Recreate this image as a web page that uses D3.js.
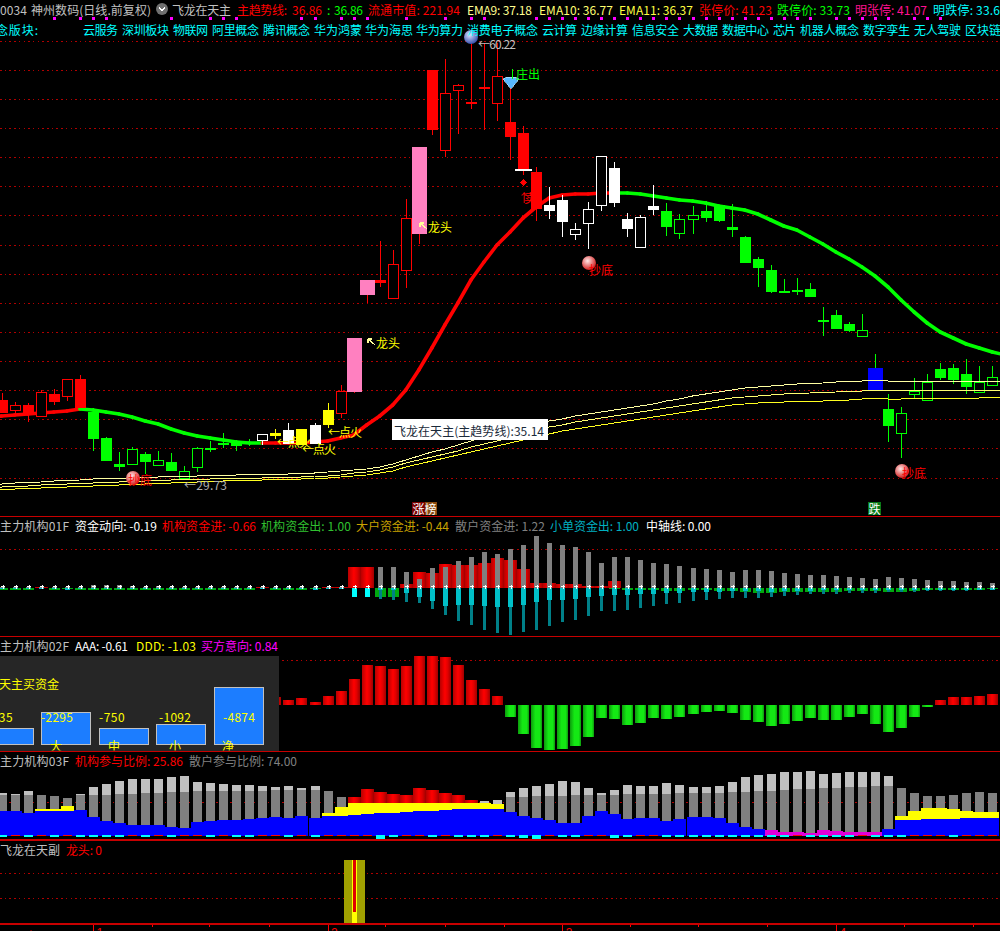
<!DOCTYPE html>
<html><head><meta charset="utf-8">
<script src="https://cdnjs.cloudflare.com/ajax/libs/d3/7.8.5/d3.min.js"></script>
<style>
html,body{margin:0;padding:0;background:#000;overflow:hidden}
svg{display:block;font-family:"Noto Sans CJK SC","Liberation Sans",sans-serif;font-size:12px}
.crisp rect,.crisp line,.crisp path{shape-rendering:crispEdges}
</style></head><body>
<script>
// ===== price panel =====
const opens=[35.20,34.45,34.85,34.01,35.62,35.41,36.67,34.36,32.54,30.72,30.65,31.42,30.58,30.86,29.67,30.44,31.84,32.19,32.19,32.23,32.33,32.89,33.10,33.17,33.45,34.50,34.22,39.54,43.60,43.60,42.27,44.23,52.91,58.30,52.63,56.83,56.06,57.11,55.92,54.66,53.89,51.16,48.85,49.20,46.75,47.52,48.78,51.44,47.87,45.84,48.78,48.43,46.82,47.80,48.43,48.85,47.31,46.61,45.07,44.30,42.83,42.90,42.97,40.80,41.15,40.52,39.61,37.44,34.57,32.82,35.55,35.13,37.37,37.44,37.02,35.69,36.18];
const closes=[34.29,34.83,34.15,35.76,35.06,36.67,34.64,32.47,30.93,30.51,31.77,30.86,31.00,30.23,30.23,31.84,31.70,32.09,31.98,32.12,32.82,32.68,32.12,32.05,32.12,33.45,35.83,35.76,42.55,43.39,44.72,47.94,46.82,54.10,56.69,57.25,55.92,56.97,57.88,53.61,51.30,48.57,48.43,47.66,47.17,48.57,52.28,48.99,47.17,48.01,48.50,47.31,47.87,48.15,47.94,47.73,47.10,44.79,44.44,42.76,42.76,42.76,42.41,40.66,40.17,40.03,40.10,35.90,33.38,34.29,35.83,36.46,36.74,36.60,36.11,36.46,36.81];
const highs=[35.69,35.06,34.99,35.90,35.97,36.67,36.95,34.64,32.61,31.56,31.91,31.56,31.63,31.49,30.58,31.91,32.33,32.89,32.40,32.47,32.82,33.17,33.59,33.17,33.59,34.99,36.25,39.54,43.60,46.33,45.70,49.27,52.91,58.30,59.07,57.32,60.22,60.22,60.19,57.60,54.38,51.51,50.11,49.55,47.59,49.06,52.28,51.86,48.29,48.15,50.25,48.99,48.22,48.78,49.13,48.85,48.92,46.68,45.21,44.65,43.67,43.74,43.39,41.71,41.50,40.66,41.22,38.42,35.62,34.71,36.74,37.02,37.79,37.72,38.07,37.58,37.58];
const lows=[34.29,34.22,33.66,34.01,34.85,35.13,34.64,31.63,30.93,30.23,30.65,30.02,30.58,30.23,29.60,30.16,31.56,31.84,31.63,31.98,32.05,32.47,32.12,32.05,32.12,33.24,33.94,35.69,41.99,43.11,42.27,43.04,46.12,53.75,52.21,53.82,55.57,54.10,54.73,52.00,50.95,47.73,47.87,46.61,46.40,45.77,48.43,48.71,46.61,45.84,48.15,46.68,46.47,46.82,47.66,47.66,46.61,44.79,43.11,42.69,42.69,42.55,42.41,39.68,40.17,39.96,39.61,35.90,32.26,31.14,35.34,35.13,36.60,36.32,35.62,35.69,36.18];
const candleKinds="rrrrrrrgggggggggggggwywywyrpprrrprrrrrrrrrwwwwwwwwwggggggggggggggggbggggggggg".split("");
const trend=[34.08,34.15,34.22,34.29,34.36,34.43,34.57,34.50,34.36,34.22,34.01,33.73,33.52,33.17,32.89,32.68,32.54,32.40,32.26,32.19,32.19,32.19,32.19,32.19,32.26,32.33,32.54,32.75,33.45,34.08,34.85,35.90,37.30,38.84,40.45,41.99,43.60,44.86,46.05,46.96,47.94,48.71,49.34,49.55,49.62,49.62,49.69,49.69,49.69,49.62,49.48,49.34,49.20,49.13,48.99,48.78,48.64,48.50,48.22,47.80,47.38,47.10,46.61,46.12,45.56,45.07,44.51,43.88,43.11,42.20,41.36,40.59,39.96,39.54,39.12,38.84,38.56];
const trendEdges=[34.01,38.35];
const trendGreenSpans=[[7,20],[48,77]];
const ema9=[29.32,29.39,29.43,29.46,29.53,29.57,29.60,29.67,29.70,29.74,29.74,29.81,29.81,29.88,29.88,29.88,29.95,29.95,29.95,30.02,30.02,30.02,30.02,30.09,30.09,30.16,30.23,30.30,30.37,30.51,30.72,31.00,31.28,31.56,31.77,32.05,32.33,32.61,32.82,33.03,33.24,33.45,33.73,33.87,34.08,34.22,34.36,34.50,34.64,34.78,34.92,35.13,35.27,35.48,35.62,35.76,35.90,36.04,36.11,36.18,36.25,36.32,36.36,36.39,36.46,36.53,36.53,36.60,36.53,36.53,36.53,36.53,36.53,36.53,36.53,36.53,36.53];
const ema10=[29.11,29.18,29.18,29.25,29.32,29.32,29.39,29.39,29.46,29.46,29.53,29.53,29.60,29.60,29.67,29.67,29.67,29.74,29.74,29.74,29.74,29.81,29.81,29.81,29.88,29.88,29.95,30.09,30.16,30.30,30.51,30.79,31.00,31.21,31.42,31.63,31.91,32.12,32.33,32.54,32.75,33.03,33.31,33.45,33.66,33.80,33.94,34.08,34.22,34.36,34.50,34.64,34.78,34.92,35.06,35.20,35.34,35.41,35.48,35.55,35.62,35.66,35.69,35.73,35.76,35.83,35.83,35.90,35.90,35.90,35.90,35.90,35.90,35.90,35.90,35.90,35.90];
const ema11=[28.97,28.97,29.04,29.04,29.11,29.11,29.18,29.18,29.25,29.25,29.32,29.32,29.39,29.39,29.46,29.46,29.53,29.53,29.60,29.60,29.60,29.67,29.67,29.67,29.74,29.74,29.81,29.88,29.95,30.09,30.23,30.51,30.72,30.93,31.14,31.35,31.56,31.77,31.98,32.19,32.40,32.61,32.82,33.03,33.17,33.31,33.45,33.59,33.73,33.87,34.01,34.15,34.29,34.43,34.57,34.71,34.85,34.92,34.99,35.06,35.06,35.13,35.13,35.13,35.20,35.20,35.27,35.34,35.27,35.27,35.34,35.34,35.34,35.34,35.34,35.34,35.38];
const ema9Edges=[29.25,36.53];
const ema10Edges=[29.04,35.90];
const ema11Edges=[28.90,35.38];
const priceGrid=[60.33,58.30,56.27,54.24,52.21,50.18,48.15,46.05,44.02,41.99,39.96,37.93,35.90,33.87,31.84,29.74];
const signalDays=[4,6,7,8,13,16,17,18,23,24,26,27,28,31,34,36,37,41,42,43,44,45,46,47,48,49,50,51,52,53,54,55,56,57,58,59,60,61,62,64,65,66,67,68,70,71,72];
const monthDays=[7,25,43,64];
const monthLabels=["1","2","3","4"];
const weekDays=[11.5,15.9,20.5,29.4,34,38.5,48.2,53.4,58.7,69.2,74.5];
// ===== panel 1 =====
const instIn=[0,0,0,.1,0,0,0,0,0,0,0,0,0,0,0,0,0,0,0,0,.1,0,0,0,0,.1,.1,5.17,5.17,0,0,.92,3.92,3.67,5.92,5.67,5.67,6.17,7.42,6.92,4.67,1.17,1.17,.92,.92,.42,.42,1.67,0,0,0,0,0,0,0,0,0,0,0,0,0,0,0,0,0,0,0,0,0,0,0,0,0,0,0,0,0];
const instOut=[.5,.5,.5,0,.5,.3,.5,.5,.5,.5,.5,.5,.5,.5,.5,.5,.5,.5,.5,.5,0,.5,.5,.5,.3,0,0,0,0,2.33,2.33,0,0,0,0,0,0,0,0,0,0,0,0,0,0,0,0,.33,.58,.58,.58,.83,.83,.58,.58,.83,.83,1.08,1.33,1.33,1.08,1.08,1.08,1.08,1.08,.83,.83,.83,1.08,1.08,.83,.58,.58,.5,.5,.5,.33];
const retailIn=[.2,.2,.2,.3,.2,.2,.3,.6,.7,.7,.4,.3,.4,.3,.3,.3,.3,.3,.3,.2,.2,.2,.2,.2,.2,.2,.2,0,0,5.17,5.17,3.92,2.17,4.92,5.17,6.67,7.67,8.92,8.42,9.67,10.67,12.92,11.17,10.67,10.17,8.92,6.17,7.67,7.67,6.92,6.17,5.92,5.42,4.92,4.67,4.42,3.92,4.42,4.42,4.17,3.67,3.42,3.17,3.17,2.92,2.67,2.42,2.17,2.67,2.42,2.17,1.92,1.67,1.67,1.42,1.42,1.17];
const smallOut=[.3,.3,.3,.2,.3,.5,.3,.3,.3,.3,.3,.3,.3,.3,.3,.3,.3,.3,.3,.3,.3,.3,.4,.3,.5,.3,.3,2.33,2.33,.6,.6,1.25,2.33,3.33,4.58,4.33,4.33,4.58,4.75,4.83,4.33,3.58,3.08,3.08,2.83,2.33,2.08,1.83,1.83,1.58,1.58,1.33,1.33,1.08,1.08,1.08,.83,.83,.83,1.08,.83,.83,.83,.58,.58,.58,.58,.58,.58,.58,.58,.58,.58,.58,.58,.58,.58];
const bigOut=[0,0,0,0,0,0,0,0,0,0,0,0,0,0,0,0,0,0,0,0,0,0,0,0,0,0,0,0,0,2.83,3.08,3.58,3.83,5.33,6.83,8.33,9.33,10.58,11.33,11.83,11.08,10.58,9.58,8.58,8.08,7.08,5.83,5.83,5.58,5.08,4.58,4.08,3.83,3.33,3.08,2.83,2.58,2.58,2.58,2.33,2.08,1.83,1.58,1.58,1.58,1.33,1.33,1.33,1.08,1.08,1.08,.83,.83,.83,.83,.6,.6];
// ===== panel 2 =====
const aaa=[0,0,0,0,0,0,0,0,0,0,0,0,0,0,0,0,0,0,0,0,0,.73,.43,.63,.23,.83,1.33,2.53,3.93,3.83,3.53,3.83,4.83,4.83,4.73,3.93,2.43,1.53,.83,-1.27,-2.97,-4.37,-4.53,-4.47,-4.17,-3.27,-1.37,-1.47,-2.07,-1.87,-1.37,-1.47,-1.27,-.97,-.77,-.67,-.87,-1.57,-1.77,-2.17,-1.97,-1.67,-1.37,-1.57,-1.57,-1.27,-.97,-1.97,-2.77,-2.37,-1.27,-.27,.43,.73,.73,.83,1.03];
const popupTitle="飞龙在天主买资金";
const popupValues=[-735,-2295,-750,-1092,-4874];
const popupCats=["超","大","中","小","净"];
// ===== panel 3 =====
const retailTop=[64,62.5,67,61,59.5,56.5,62.5,73,77.5,82,85,85,85,88,89.5,80.5,79,77.5,76,76,74.5,73,74.5,71.5,74.5,67,58,0,0,0,0,0,0,0,0,0,0,52,53.5,65.5,71.5,74.5,77.5,82,80.5,71.5,64,68.5,76,74.5,74.5,79,76,73,73,74.5,80.5,88,91,92.5,95.5,95.5,97,92.5,94,95.5,95.5,95.5,89.5,71.5,64,59.5,59.5,61,64,65.5,64];
const retailBase=[61,61,61,61,59.5,56.5,61,61,61,62.5,62.5,64,64,65.5,65.5,67,67,67,67,67,67,68.5,68.5,68.5,68.5,67,58,0,0,0,0,0,0,0,0,0,0,49,47.5,58,58,59.5,59.5,59.5,61,61,61,61,62.5,62.5,62.5,62.5,64,64,64,64,65.5,65.5,67,67,68.5,70,70,71.5,71.5,73,73,74.5,74.5,71.5,64,59.5,59.5,61,64,65.5,64];
const instShare=[37,37,34,37,37,37,38.5,28,22,19,16,16,16,13,11.5,20.5,22,23.5,23.5,25,26.5,28,26.5,29.5,26.5,29.5,29.5,31,32.5,34,34,35.5,37,37,38.5,40,40,40,40,35.5,29.5,26.5,23.5,19,19,29.5,37,32.5,25,26.5,26.5,22,25,28,28,26.5,19,13,10,0,0,0,0,0,0,0,0,0,10,23.5,23.5,25,25,25,26.5,26.5,26.5];
const yellowShare=[0,0,0,40,40,44.5,0,0,0,0,0,0,0,0,0,0,0,0,0,0,0,0,0,0,0,34,43,49,49,49,49,49,49,49,49,49,49,49,47.5,0,0,0,0,0,0,0,0,0,0,0,0,0,0,0,0,0,0,0,0,0,0,0,0,0,0,0,0,0,0,29.5,37,41.5,41.5,40,37,35.5,35.5];
const redShare=[0,0,0,0,0,0,0,0,0,0,0,0,0,0,0,0,0,0,0,0,0,0,0,0,0,0,0,58,70,65.5,62.5,61,71.5,68.5,64,61,53.5,0,0,0,0,0,0,0,0,0,0,0,0,0,0,0,0,0,0,0,0,0,0,0,0,0,0,0,0,0,0,0,0,0,0,0,0,0,0,0,0];
const magentaShare=[0,0,0,0,0,0,0,0,0,0,0,0,0,0,0,0,0,0,0,0,0,0,0,0,0,0,0,0,0,0,0,0,0,0,0,0,0,0,0,0,0,0,0,0,0,0,0,0,0,0,0,0,0,0,0,0,0,0,0,8.5,5.5,5.5,4,8.5,7,5.5,5.5,5.5,0,0,0,0,0,0,0,0,0];
const baseFlow=[-1.5,1,-1.5,1,-1.5,1,-1.5,-1.5,-1.5,-1.5,1,-1.5,1,-1.5,1,1,-1.5,1,-1.5,-1.5,1,1,-1.5,1,-1.5,1,1,1,1,-6.5,-1.5,1,1,-1.5,1,-1.5,-1.5,-1.5,1,-1.5,-4,-5.5,1,-1.5,-1.5,1,1,-4,-1.5,1,1,-1.5,-1.5,-1.5,-1.5,-1.5,-1.5,-1.5,-1.5,-1.5,-1.5,1,-1.5,-1.5,-1.5,-1.5,1,-1.5,-1.5,-1.5,1,1,1,-1.5,1,1,1];
// ===== panel 4 =====
const dragonDays=[27];
const dragonCore=[.82];
// ===== texts =====
const concepts=["云服务","深圳板块","物联网","阿里概念","腾讯概念","华为鸿蒙","华为海思","华为算力","消费电子概念","云计算","边缘计算","信息安全","大数据","数据中心","芯片","机器人概念","数字孪生","无人驾驶","区块链"];

const W=1000,H=931;
const svg=d3.select("body").append("svg").attr("width",W).attr("height",H).attr("class","crisp");
svg.append("rect").attr("width",W).attr("height",H).attr("fill","#000");
const defs=svg.append("defs");
function grad(id,stops){const g=defs.append("linearGradient").attr("id",id).attr("x1",0).attr("x2",1).attr("y1",0).attr("y2",0);
 stops.forEach(([o,c])=>g.append("stop").attr("offset",o).attr("stop-color",c));}
grad("redG",[[0,"#b80000"],[.45,"#ff0000"],[.7,"#e00000"],[1,"#a00000"]]);
grad("grnG",[[0,"#0c9c0c"],[.4,"#14e814"],[.8,"#14e814"],[1,"#0c980c"]]);
function ball(id,a,b){const g=defs.append("radialGradient").attr("id",id).attr("cx",.4).attr("cy",.35).attr("r",.7);
 g.append("stop").attr("offset",0).attr("stop-color",a);g.append("stop").attr("offset",1).attr("stop-color",b);}
ball("redBall","#ffe8e8","#d01010");ball("blueBall","#dde4ff","#2c46a8");
defs.append("clipPath").attr("id","popClip").append("rect").attr("x",0).attr("y",656).attr("width",279).attr("height",94.5);

const x=d3.scaleLinear().domain([0,76]).range([1.7,992.3]);
const yP=d3.scaleLinear().domain([60.19,29.39]).range([43,483]);
const y1=d3.scaleLinear().domain([0,1]).range([587.7,583.7]);
const y2=d3.scaleLinear().domain([0,1]).range([704.5,694.5]);
const y3=d3.scaleLinear().domain([0,1]).range([835.7,835.033]);
const y4=d3.scaleLinear().domain([0,1]).range([924,860]);
const px=i=>Math.round(x(i));

function hdots(g,y){g.append("line").attr("x1",0).attr("x2",W).attr("y1",Math.round(y)+.5).attr("y2",Math.round(y)+.5)
 .attr("stroke","#b00000").attr("stroke-dasharray","1.5 3.2").attr("stroke-width",1);}
function label(g,xx,yy,str,fill,width,anchor){const t=g.append("text").attr("x",xx).attr("y",yy).attr("fill",fill)
 .attr("dominant-baseline","central").text(str);
 if(width)t.attr("textLength",width).attr("lengthAdjust","spacing");
 if(anchor)t.attr("text-anchor",anchor);
 return t;}
function bars(g,data,scale,w,fill){g.selectAll(null).data(data.map((v,i)=>({v,i})).filter(d=>d.v!==0)).join("rect")
 .attr("x",d=>px(d.i)-Math.floor(w/2)).attr("width",w)
 .attr("y",d=>Math.min(scale(d.v),scale(0))).attr("height",d=>Math.max(1,Math.abs(scale(d.v)-scale(0))))
 .attr("fill",typeof fill==="function"?d=>fill(d):fill);}
function withEdges(s,e){return [{i:-1,v:e[0]},...s.map((v,i)=>({i,v})),{i:77,v:e[1]}];}

// ===== price panel =====
const gP=svg.append("g");
priceGrid.forEach(p=>hdots(gP,yP(p)));
const lineGen=d3.line().x(d=>x(d.i)).y(d=>yP(d.v));
const pts=withEdges(trend,trendEdges);
function trendIsGreen(i){return trendGreenSpans.some(([a,b])=>i>=a&&i<=b);}
d3.pairs(pts).forEach(([a,b])=>{gP.append("path").attr("d",lineGen([a,b])).attr("fill","none")
 .attr("stroke",trendIsGreen(b.i)?"#00ff00":"#ff0000").attr("stroke-width",3.6).attr("stroke-linecap","round").style("shape-rendering","auto");});
const cCol={r:"#ff0000",g:"#00ff00",w:"#ffffff",y:"#ffff00",p:"#ff80c0",b:"#0000ff"};
const wickCol={r:"#ff0000",g:"#00ff00",w:"#ffffff",y:"#ffff00",p:"#ff0000",b:"#00ff00"};
candleKinds.forEach((k,i)=>{
 const cx=px(i),o=opens[i],c=closes[i];
 const top=Math.round(yP(Math.max(o,c))),bot=Math.round(yP(Math.min(o,c)));
 gP.append("line").attr("x1",cx+.5).attr("x2",cx+.5).attr("y1",Math.round(yP(highs[i]))).attr("y2",Math.round(yP(lows[i])))
  .attr("stroke",wickCol[k]).attr("stroke-width",1);
 const hollow=c>o&&"rgw".includes(k);
 const bw=(k==="p"||k==="b")?15:11;
 if(hollow){gP.append("rect").attr("x",cx-5+.5).attr("y",top+.5).attr("width",10).attr("height",Math.max(1,bot-top-1))
   .attr("fill","#000").attr("stroke",cCol[k]).attr("stroke-width",1);}
 else{gP.append("rect").attr("x",cx-Math.floor(bw/2)).attr("y",top).attr("width",bw).attr("height",Math.max(2,bot-top)).attr("fill",cCol[k]);}
});
[[withEdges(ema9,ema9Edges),"#ffffa0"],[withEdges(ema10,ema10Edges),"#ffff70"],[withEdges(ema11,ema11Edges),"#ffff20"]].forEach(([s,c])=>{
 gP.append("path").attr("d",lineGen(s)).attr("fill","none").attr("stroke",c).attr("stroke-width",1);
});
gP.append("rect").attr("x",px(40)-8).attr("y",yP(closes[40])-1).attr("width",17).attr("height",2).attr("fill","#fff");

// annotations
const gA=svg.append("g").style("shape-rendering","auto");
const Y="#ffff00";
[[368,342],[420,226]].forEach(([ax,ay])=>{
 gA.append("path").attr("d",`M${ax},${ay-3} L${ax+7},${ay+3} M${ax},${ay-3} h3.5 M${ax},${ay-3} v3.5`)
  .attr("stroke","#ffff9a").attr("stroke-width",1.1).attr("fill","none");
 label(gA,ax+8,ay,"龙头",Y,24);
});
[[277,441],[302,448],[328,431]].forEach(([ax,ay])=>label(gA,ax,ay,"←点火",Y,34));
[[133,478,128,479],[589,263,589,269],[902,471,902,472]].forEach(([bx,by,tx,ty])=>{
 gA.append("circle").attr("cx",bx).attr("cy",by).attr("r",7).attr("fill","url(#redBall)");
 label(gA,tx,ty,"抄底","#ff0000",24);
});
label(gA,184,484,"←29.73","#b0b0b0",43);
gA.append("circle").attr("cx",471).attr("cy",37).attr("r",7).attr("fill","url(#blueBall)");
label(gA,478,43,"←60.22","#c0c0c0",38);
gA.append("path").attr("d","M503,79 L507,77 L515,77 L519,79 L511,89 Z").attr("fill","#58b8ff").attr("stroke","#cfeeff").attr("stroke-width",.6);
gA.append("line").attr("x1",512.5).attr("x2",512.5).attr("y1",69).attr("y2",79).attr("stroke","#00ff00");
label(gA,516,73,"庄出","#00ff00",24);
gA.append("path").attr("d","M523,179 L526.5,182.5 L523,186 L519.5,182.5 Z").attr("fill","#ff0000");
label(gA,518,197,"↑卖","#ff0000",18);
gA.append("rect").attr("x",392).attr("y",419).attr("width",156).attr("height",21).attr("fill","#fff").style("shape-rendering","crispEdges");
label(gA,394,430,"飞龙在天主(主趋势线):35.14","#1a2a3a",150);
gA.append("rect").attr("x",412).attr("y",502).attr("width",12.5).attr("height",13).attr("fill","#7a0000").style("shape-rendering","crispEdges");
gA.append("rect").attr("x",424.5).attr("y",502).attr("width",12.5).attr("height",13).attr("fill","#8a4a10").style("shape-rendering","crispEdges");
label(gA,412.5,508.5,"涨榜","#ffffff",24);
gA.append("rect").attr("x",868).attr("y",502).attr("width",13).attr("height",13).attr("fill","#087a18").style("shape-rendering","crispEdges");
label(gA,868.5,508.5,"跌","#ffffff",12);

svg.append("g").selectAll("rect").data(signalDays).join("rect")
 .attr("x",d=>px(d)-1).attr("y",17).attr("width",3).attr("height",3).attr("fill","#ff00ff");

// ===== panel 1 =====
const g1=svg.append("g");
hdots(g1,549);
bars(g1,instIn,y1,13,"url(#redG)");
bars(g1,instOut.map(v=>-v),y1,11,"#00a810");
bars(g1,retailIn,y1,5,"#808080");
bars(g1,bigOut.map(v=>-v),y1,3,"#008088");
bars(g1,smallOut.map(v=>-v),y1,5,d=>(d.i===27||d.i===28)?"#00ffff":"#00c0c8");
g1.selectAll("path.plus").data(d3.range(77)).join("path").attr("class","plus")
 .attr("d",i=>`M${px(i)-1},${Math.round(y1(.4))+.5}h4M${px(i)+1},${Math.round(y1(.4))-1}v4`).attr("stroke","#fff").attr("stroke-width",1);

// ===== panel 2 =====
const g2=svg.append("g");
hdots(g2,660);
bars(g2,aaa,y2,11,d=>d.v>0?"url(#redG)":"url(#grnG)");
svg.append("rect").attr("x",0).attr("y",656).attr("width",279).attr("height",95).attr("fill","#262626");
const gPop=svg.append("g").attr("clip-path","url(#popClip)");
label(gPop,-37,683,popupTitle,Y,96);
const hPop=d3.scaleLinear().domain([0,4874]).range([10,58]);
const popBarLeft=[-16,41,99,156,214];
const popTextLeft=[-13,41,99,159,223];
const popCatX=[-9,56,114,175,228];
popupValues.forEach((v,k)=>{
 const h=hPop(Math.abs(v));
 gPop.append("rect").attr("x",popBarLeft[k]+.5).attr("y",745-h+.5).attr("width",49).attr("height",h-1)
  .attr("fill","#1c7dff").attr("stroke","#c0c0c0").attr("stroke-width",1);
 label(gPop,popTextLeft[k],716,String(v),Y,String(v).length*6.4);
 label(gPop,popCatX[k],745,popupCats[k],Y,null,"middle");
});

// ===== panel 3 =====
const g3=svg.append("g");
hdots(g3,802);
bars(g3,retailTop,y3,9,"#c0c0c0");
bars(g3,retailBase,y3,9,"#808080");
bars(g3,redShare,y3,13,"url(#redG)");
bars(g3,yellowShare,y3,13,"#ffff00");
bars(g3,instShare,y3,13,"#0000ff");
bars(g3,magentaShare,y3,13,"#e000d8");
g3.selectAll("rect.base").data(baseFlow).join("rect").attr("class","base")
 .attr("x",(d,i)=>px(i)-4).attr("width",9).attr("y",y3(1))
 .attr("height",d=>y3(d>0?-.5:d)-y3(1)).attr("fill",d=>d>0?"#ff0000":"#00ffff");

// ===== panel 4 =====
const g4=svg.append("g");
hdots(g4,873.3);hdots(g4,898.3);
dragonDays.forEach((d,k)=>{
 g4.append("rect").attr("x",px(d)-10).attr("width",21).attr("y",y4(1)).attr("height",y4(0)-y4(1)).attr("fill","#a0a000");
 g4.append("rect").attr("x",px(d)-2).attr("width",5).attr("y",y4(1)).attr("height",y4(0)-y4(1)).attr("fill","#ffff00");
 g4.append("rect").attr("x",px(d)-1).attr("width",3).attr("y",y4(1)).attr("height",y4(1-dragonCore[k])-y4(1)).attr("fill","#e00000");
});

// ===== separators =====
[516.5,636.5,751.5,840,924].forEach(y=>svg.append("line").attr("x1",0).attr("x2",W).attr("y1",y).attr("y2",y).attr("stroke","#c80000").attr("stroke-width",1.4));

// ===== date axis =====
const axM=d3.axisBottom(x).tickValues(monthDays).tickSize(6).tickPadding(-3).tickFormat((d,i)=>monthLabels[i]);
const axW=d3.axisBottom(x).tickValues(weekDays).tickSize(2).tickFormat("");
[axM,axW].forEach(a=>{const g=svg.append("g").attr("transform","translate(0,925)").call(a);
 g.select(".domain").remove();g.selectAll("line").attr("stroke","#ff0000");
 g.selectAll("text").attr("fill","#ff0000").attr("text-anchor","start").attr("dx",3).style("font-size","12px");});
label(svg,0,934,"2024/12","#ff0000",null);

// ===== header rows =====
const T=svg.append("g").style("shape-rendering","auto");
const G="#c0c0c0",R="#ff0000",GN="#00ff00";
label(T,-13.5,9,"000034",G,40.5);
label(T,31,9,"神州数码(日线.前复权)",G,120);
T.append("circle").attr("cx",162).attr("cy",9).attr("r",6).attr("fill","#707070");
T.append("path").attr("d","M159,7.5 L162,10.5 L165,7.5").attr("fill","none").attr("stroke","#fff").attr("stroke-width",1.3);
label(T,172,9,"飞龙在天主",G,59);
label(T,237,9,"主趋势线:",R,50);
label(T,292,9,"36.86",R,30);
label(T,327,9,":",GN);
label(T,334,9,"36.86",GN,29);
label(T,368,9,"流通市值: 221.94",R,92);
label(T,467,9,"EMA9: 37.18","#ffff90",65);
label(T,539,9,"EMA10: 36.77","#ffff70",74);
label(T,619,9,"EMA11: 36.37","#ffff40",74);
label(T,699,9,"张停价: 41.23",R,73);
label(T,777,9,"跌停价: 33.73",GN,73);
label(T,855,9,"明张停: 41.07","#ff1090",72);
label(T,933,9,"明跌停: 33.6","#00ffff",67);
const C="#00ffff";
label(T,-17,29,"概念版块:",C,55);
const cLeft=[83,122,173,212,263,314,365,416,467,542,581,632,683,722,773,800,863,914,965];
const cWidth=[35,47,35,47,47,48,48,47,71,35,47,47,35,47,23,59,47,47,36];
concepts.forEach((s,k)=>label(T,cLeft[k],29,s,C,cWidth[k]));
label(T,0,525,"主力机构01F",G,69);
label(T,75,525,"资金动向: -0.19","#ffffff",82);
label(T,162,525,"机构资金进: -0.66",R,94);
label(T,261,525,"机构资金出: 1.00","#30c030",90);
label(T,356,525,"大户资金进: -0.44","#c8a000",93);
label(T,455,525,"散户资金进: 1.22","#808080",90);
label(T,550,525,"小单资金出: 1.00","#00b0c0",89);
label(T,646,525,"中轴线: 0.00","#ffffff",65);
label(T,0,645,"主力机构02F",G,69);
label(T,75,645,"AAA: -0.61","#ffffff",53);
label(T,136,645,"DDD: -1.03",Y,60);
label(T,201,645,"买方意向: 0.84","#ff00ff",77);
label(T,0,760,"主力机构03F",G,69);
label(T,75,760,"机构参与比例: 25.86",R,108);
label(T,189,760,"散户参与比例: 74.00","#808080",108);
label(T,0,849,"飞龙在天副",G,60);
label(T,66,849,"龙头: 0",R,36);
</script>
</body></html>
